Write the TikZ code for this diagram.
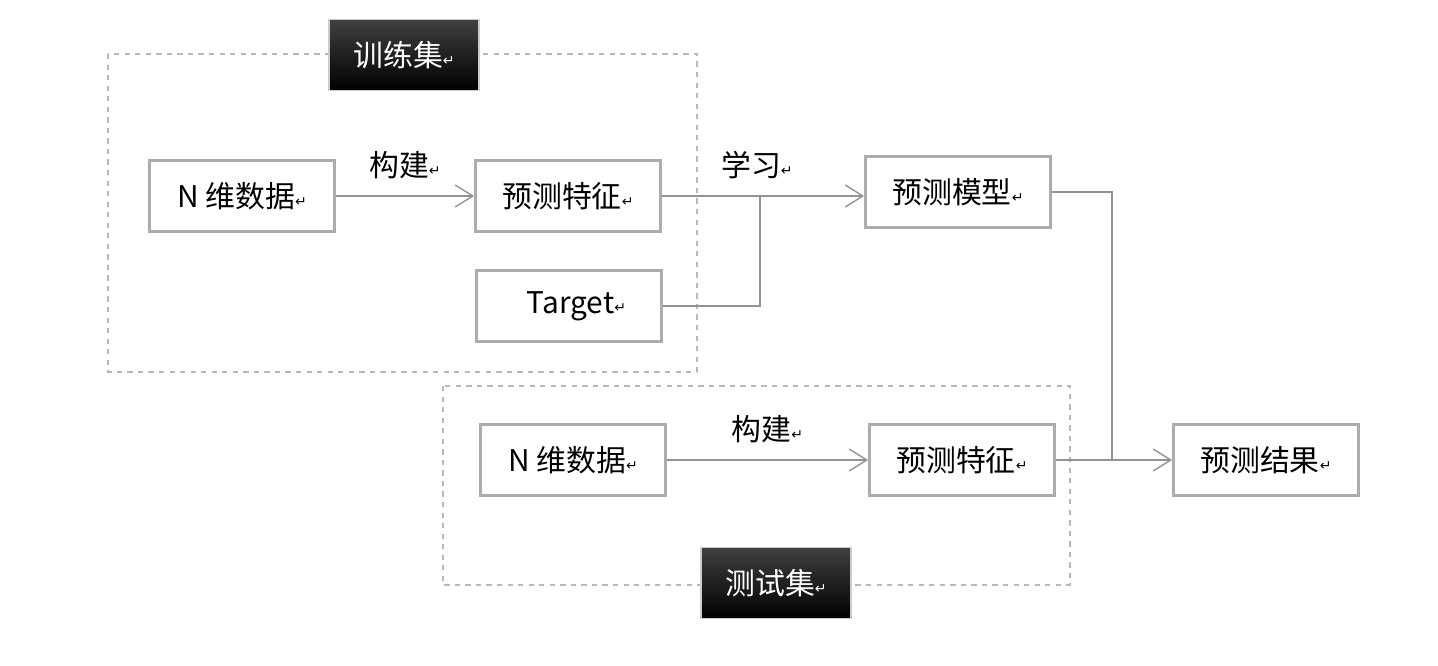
\documentclass[tikz,border=0pt]{standalone}
\usepackage{fontspec}
\setmainfont{Noto Sans CJK SC}
\newfontfamily\dejavu{DejaVu Sans}
\usetikzlibrary{arrows.meta}

\newcommand{\pmark}{{\dejavu\fontsize{8}{8}\selectfont\raisebox{0.1ex}{↵}}}

\tikzset{
  databox/.style={draw=gray!65, line width=1.6pt, fill=white, minimum width=3.7cm,
    minimum height=1.42cm, inner sep=0pt, font=\fontsize{17}{20}\selectfont},
  setlabel/.style={draw=gray!40, line width=0.6pt, top color=black!75, bottom color=black,
    text=white, minimum width=3cm, minimum height=1.42cm, inner sep=0pt,
    font=\fontsize{17}{20}\selectfont},
  setframe/.style={draw=gray!55, dashed, line width=0.6pt},
  flow/.style={draw=gray!85, line width=0.8pt},
  flowarrow/.style={flow, -{Straight Barb[length=10pt, width=12.5pt, line width=0.8pt]}},
  steplabel/.style={font=\fontsize{17}{20}\selectfont}
}

\begin{document}
\begin{tikzpicture}[x=0.02cm, y=-0.02cm]
            \useasboundingbox (0,0) rectangle (1438,666);

            % Trainingsbereich und Testbereich
            \draw[setframe] (108,54) rectangle (697,372);
            \draw[setframe] (443,386) rectangle (1070,585);
            \node[setlabel] (trainlbl) at (404,55) {训练集\pmark};
            \node[setlabel] (testlbl) at (776,583) {测试集\pmark};

            % Knoten
            \node[databox] (ndata1) at (242,196) {N 维数据\pmark};
            \node[databox] (feat1) at (568,196) {预测特征\pmark};
            \node[databox] (target) at (569,306) {\hspace*{0.3cm}Target\pmark};
            \node[databox] (model) at (958,192) {预测模型\pmark};
            \node[databox] (ndata2) at (573,460) {N 维数据\pmark};
            \node[databox] (feat2) at (962,460) {预测特征\pmark};
            \node[databox] (result) at (1266,460) {预测结果\pmark};

            \coordinate (learnjoin) at (760,196);
            \coordinate (predjoin) at (1112,460);

            % Verbindungen
            \draw[flowarrow] (ndata1) -- (feat1) node[midway, above=6pt, steplabel] {构建\pmark};
            \draw[flowarrow] (feat1.east |- learnjoin) -- (model.west |- learnjoin)
                node[pos=0.47, above=6pt, steplabel] {学习\pmark};
            \draw[flow] (target) -| (learnjoin);
            \draw[flowarrow] (ndata2) -- (feat2) node[midway, above=6pt, steplabel] {构建\pmark};
            \draw[flowarrow] (feat2) -- (result);
            \draw[flow] (model) -| (predjoin);
        \end{tikzpicture}
\end{document}
